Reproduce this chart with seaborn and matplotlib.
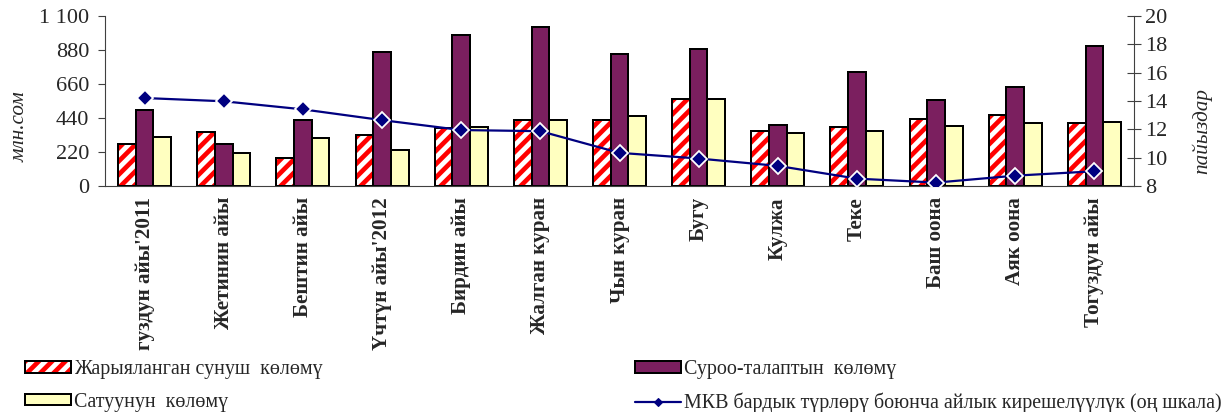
import numpy as np
import pandas as pd
import matplotlib
matplotlib.use("Agg")
from matplotlib import pyplot as plt
from matplotlib.patches import Patch
from matplotlib.lines import Line2D
from matplotlib.colors import to_rgba
from matplotlib.ticker import FuncFormatter
import seaborn as sns


months = ["гуздун айы'2011", "Жетинин айы", "Бештин айы", "Үчтүн айы'2012",
          "Бирдин айы", "Жалган куран", "Чын куран", "Бугу", "Кулжа", "Теке",
          "Баш оона", "Аяк оона", "Тогуздун айы"]

offer = [271, 351, 180, 331, 375, 424, 429, 563, 353, 379, 431, 461, 405]
demand = [494, 271, 427, 868, 975, 1031, 855, 884, 392, 736, 557, 641, 903]
sales = [320, 214, 310, 232, 379, 429, 451, 561, 340, 355, 390, 405, 416]
yield_pct = [14.21, 13.98, 13.41, 12.65, 11.95, 11.87, 10.34, 9.94, 9.42, 8.52, 8.24, 8.73, 9.04]

series_names = ["Жарыяланган сунуш  көлөмү", "Суроо-талаптын  көлөмү", "Сатуунун  көлөмү"]
line_name = "МКВ бардык түрлөрү боюнча айлык кирешелүүлүк (оң шкала)"

left_ticks = [0, 220, 440, 660, 880, 1100]
right_ticks = [8, 10, 12, 14, 16, 18, 20]

PURPLE = "#7B1F5F"
YELLOW = "#FFFFC0"
NAVY = "#000080"
AXCOL = "#404040"
HATCH = "//"

sns.set_theme(style="white")
plt.rcParams["font.family"] = ["Liberation Serif", "DejaVu Serif"]
plt.rcParams["hatch.linewidth"] = 4.2

df = pd.DataFrame({
    "month": months * 3,
    "series": np.repeat(series_names, len(months)),
    "value": offer + demand + sales,
})

W, H, DPI = 1229, 412, 80
fig = plt.figure(figsize=(W / DPI, H / DPI), dpi=DPI)
ax = fig.add_axes([105 / W, 1 - 186 / H, (1134 - 105) / W, (186 - 16) / H])

sns.barplot(data=df, x="month", y="value", hue="series", hue_order=series_names,
            palette=["white", PURPLE, YELLOW], saturation=1, width=0.67,
            edgecolor="black", linewidth=1.8, errorbar=None, legend=False, ax=ax)

# red stripes with a black outline
for p in ax.containers[0]:
    p.set_hatch(HATCH)
    p._hatch_color = to_rgba("red")

ax.set_xlim(-0.5, len(months) - 0.5)
ax.set_ylim(0, 1100)
ax.set_yticks(left_ticks)
ax.yaxis.set_major_formatter(FuncFormatter(lambda v, _: f"{v:,.0f}".replace(",", " ")))
ax.set_xticks(range(len(months)))
ax.set_xticklabels(months, rotation=90, fontweight="bold", fontsize=19)
ax.set_xticks(np.arange(-0.5, len(months)), minor=True)
ax.tick_params(axis="x", which="major", length=0, pad=10)
ax.tick_params(axis="x", which="minor", length=6, width=1, color=AXCOL, direction="out")
ax.tick_params(axis="y", length=6, width=1, color=AXCOL, direction="out", labelsize=20, pad=8)
ax.set_xlabel("")
ax.set_ylabel("млн.сом", style="italic", fontsize=19)
ax.yaxis.set_label_coords(-0.073, 0.347)

ax2 = ax.twinx()
sns.lineplot(x=np.arange(len(months)), y=yield_pct, ax=ax2, color=NAVY, lw=2,
             marker="D", markersize=10.5, markerfacecolor=NAVY, markeredgecolor="white",
             markeredgewidth=1.6, legend=False)
ax2.set_ylim(8, 20)
ax2.set_yticks(right_ticks)
ax2.tick_params(axis="y", length=12, width=1, color=AXCOL, direction="inout", labelsize=20, pad=4)
ax2.set_ylabel("пайыздар", style="italic", fontsize=19)
ax2.yaxis.set_label_coords(1.056, 0.324)

for a in (ax, ax2):
    a.spines["top"].set_visible(False)
    for s in a.spines.values():
        s.set_color(AXCOL)
        s.set_linewidth(1)
ax.spines["right"].set_visible(False)
ax2.spines["left"].set_visible(False)
ax2.spines["bottom"].set_visible(False)

red_handle = Patch(fc="white", ec="black", lw=1.8, hatch=HATCH)
red_handle._hatch_color = to_rgba("red")
handles = [
    red_handle,
    Patch(fc=YELLOW, ec="black", lw=1.8),
    Patch(fc=PURPLE, ec="black", lw=1.8),
    Line2D([], [], color=NAVY, lw=2, marker="D", markersize=4.5),
]
labels = [series_names[0], series_names[2], series_names[1], line_name]
fig.legend(handles, labels, ncol=2,
           loc="upper left", bbox_to_anchor=(25 / W, 1 - 360 / H), frameon=False,
           fontsize=18, handlelength=2.3, handleheight=0.5, handletextpad=0.15,
           labelspacing=0.68, columnspacing=15.6, borderpad=0, borderaxespad=0)

fig.savefig("out.png", dpi=DPI)
